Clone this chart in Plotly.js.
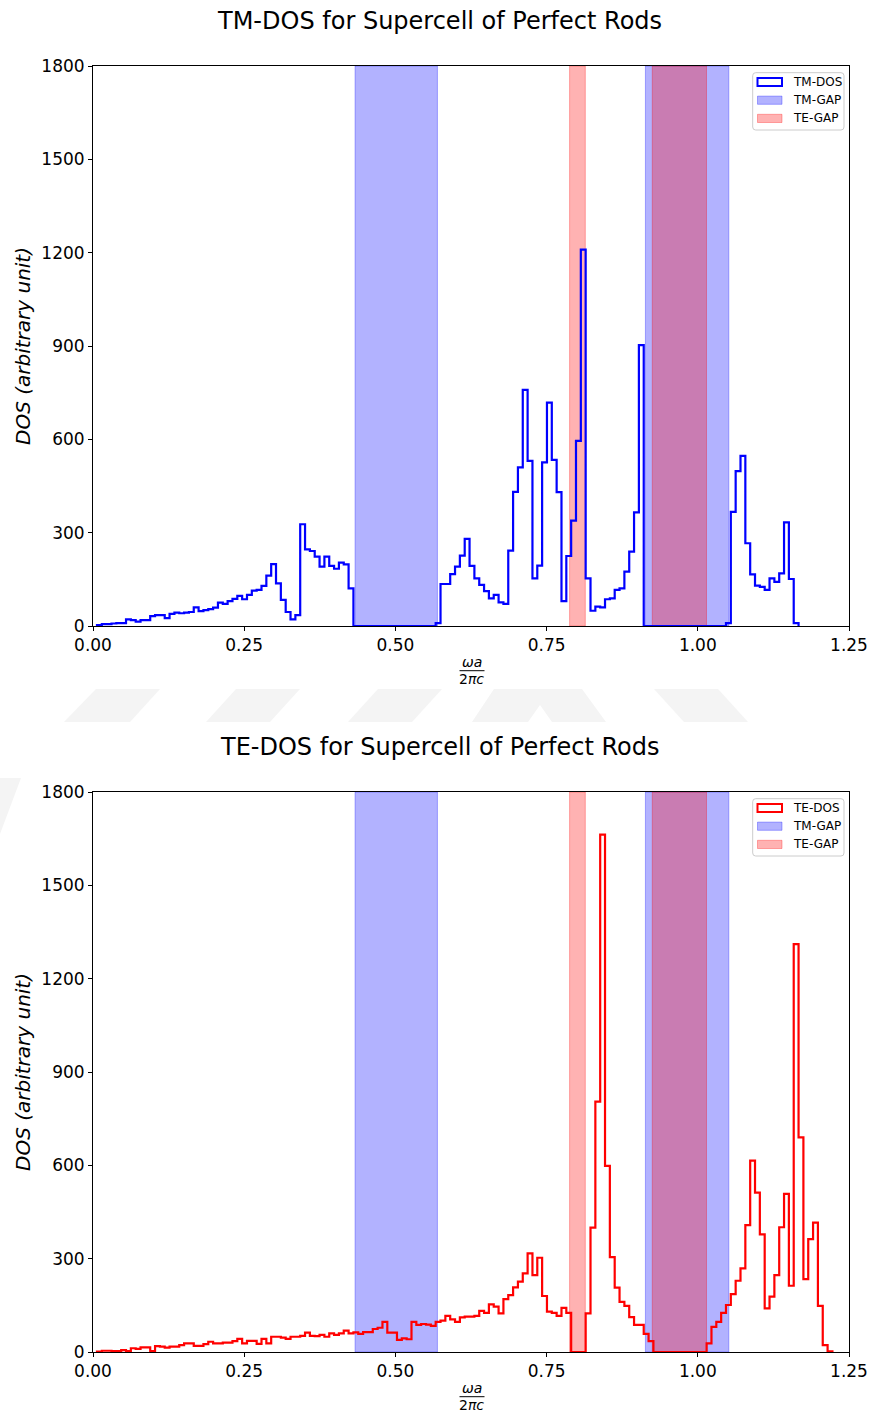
<!DOCTYPE html>
<html>
<head>
<meta charset="utf-8">
<script src="https://cdn.plot.ly/plotly-3.0.1.min.js"></script>
<style>
  html, body { margin: 0; padding: 0; background: #ffffff; }
  #chart { width: 874px; height: 1414px; }
</style>
</head>
<body>
<div id="chart"></div>
<script>
// Histogram bins shared by both spectra (normalised frequency omega*a / 2*pi*c)
const binStart = 0.0066;
const binWidth = 0.008;

// TM density of states per bin
const tmDos = [
  3, 6, 6, 8, 9, 9, 21, 19, 14, 19, 19, 32, 35, 35, 25, 39, 43, 41, 43, 45,
  60, 48, 51, 54, 59, 75, 71, 80, 87, 97, 86, 100, 114, 116, 129, 162, 199, 137, 84, 45,
  21, 35, 327, 246, 241, 223, 191, 223, 193, 184, 204, 198, 121,
  0, 0, 0, 0, 0, 0, 0, 0, 0, 0, 0, 0, 0, 0, 0, 0, 0,
  9,
  135, 135, 167, 191, 226, 280, 193, 153, 132, 112, 89, 100, 76, 71, 242, 431, 510, 759, 531, 153,
  194, 526, 718, 534, 430, 80, 225, 339, 595, 1210, 153, 49, 62, 60, 86, 89, 116, 121, 175, 239,
  365, 903,
  0, 0, 0, 0, 0, 0, 0, 0, 0, 0, 0, 0, 0, 0, 0, 0, 0,
  9,
  367, 498, 547, 266, 166, 130, 126, 116, 153, 142, 169, 333, 151, 9
];

// TE density of states per bin
const teDos = [
  1, 4, 4, 3, 3, 6, 3, 12, 10, 15, 15, 3, 19, 17, 14, 17, 17, 22, 28, 28,
  20, 20, 25, 33, 28, 28, 30, 30, 35, 42, 28, 36, 36, 26, 42, 28, 49, 49, 46, 42,
  49, 49, 52, 62, 52, 51, 55, 49, 60, 55, 60, 69, 60, 63,
  58, 64, 64, 74, 78, 97, 62, 62, 39, 44, 41, 97, 87, 90, 88, 84, 97, 101, 116, 105,
  97, 111, 114, 114, 116, 132, 126, 153, 146, 124, 170, 183, 208, 226, 253, 317, 247, 303, 180, 130,
  126, 116, 142, 126,
  0, 0, 0,
  124, 400, 805, 1663, 598, 305, 207, 161, 148, 112, 87, 87, 58, 35,
  0, 0, 0, 0, 0, 0, 0, 0, 0, 0, 0,
  28, 81, 97, 126, 151, 186, 229, 269, 408, 615, 512, 378, 140, 178, 247, 401, 508, 213, 1311, 690,
  234, 363, 416, 148, 22, 2
];

// Photonic band gaps [start, end]
const tmGaps = [[0.4333, 0.5695], [0.9134, 1.0513]];
const teGaps = [[0.7880, 0.8140], [0.9247, 1.0144]];

const panelTitles = ['TM-DOS for Supercell of Perfect Rods', 'TE-DOS for Supercell of Perfect Rods'];
const legendLabels = [['TM-DOS', 'TM-GAP', 'TE-GAP'], ['TE-DOS', 'TM-GAP', 'TE-GAP']];
const yTicks = [0, 300, 600, 900, 1200, 1500, 1800];
const xTicks = [0, 0.25, 0.5, 0.75, 1.0, 1.25];
const yLabel = 'DOS (arbitrary unit)';

// ---- page geometry (pixels) ----
const W = 874, H = 1414;
const M = { l: 93, r: 25, t: 66, b: 62 };
const plotW = W - M.l - M.r, plotH = H - M.t - M.b;
const px = x => (x - M.l) / plotW;           // pixel x -> paper
const py = y => (H - M.b - y) / plotH;       // pixel y -> paper
const panelTop = [66, 792];                   // top pixel of each axes box
const panelH = 560;

const FONT = 'DejaVu Sans, Liberation Sans, sans-serif';
const BLUE = '#0000ff', RED = '#ff0000';
const BLUE_A = 'rgba(0,0,255,0.3)', RED_A = 'rgba(255,0,0,0.3)';

// matplotlib-style step outline of a histogram
function stepTrace(values, color, xa, ya) {
  const xs = [binStart], ys = [0];
  for (let i = 0; i < values.length; i++) {
    xs.push(binStart + i * binWidth);
    ys.push(values[i]);
  }
  const end = binStart + values.length * binWidth;
  xs.push(end); ys.push(values[values.length - 1]);
  xs.push(end); ys.push(0);
  return {
    type: 'scatter', mode: 'lines', x: xs, y: ys,
    line: { shape: 'hv', color: color, width: 2.2 },
    xaxis: xa, yaxis: ya, showlegend: false, hoverinfo: 'skip'
  };
}

const data = [
  stepTrace(tmDos, BLUE, 'x', 'y'),
  stepTrace(teDos, RED, 'x2', 'y2')
];

function axisCommon() {
  return {
    showgrid: false, zeroline: false, showline: true, mirror: true,
    linecolor: '#000', linewidth: 1,
    ticks: 'outside', ticklen: 4, tickwidth: 1, tickcolor: '#000',
    tickfont: { family: FONT, size: 17, color: '#000' }
  };
}

const shapes = [];
const annotations = [];

function polyPath(pts) {
  return pts.map((p, i) => (i ? 'L' : 'M') + px(p[0]).toFixed(6) + ',' + py(p[1]).toFixed(6)).join(' ') + ' Z';
}

function roundRectPath(x0, y0, x1, y1, r) {
  // pixel coords -> paper path with rounded corners
  const X = v => px(v).toFixed(6), Y = v => py(v).toFixed(6);
  return 'M' + X(x0 + r) + ',' + Y(y0) +
    ' L' + X(x1 - r) + ',' + Y(y0) + ' Q' + X(x1) + ',' + Y(y0) + ' ' + X(x1) + ',' + Y(y0 + r) +
    ' L' + X(x1) + ',' + Y(y1 - r) + ' Q' + X(x1) + ',' + Y(y1) + ' ' + X(x1 - r) + ',' + Y(y1) +
    ' L' + X(x0 + r) + ',' + Y(y1) + ' Q' + X(x0) + ',' + Y(y1) + ' ' + X(x0) + ',' + Y(y1 - r) +
    ' L' + X(x0) + ',' + Y(y0 + r) + ' Q' + X(x0) + ',' + Y(y0) + ' ' + X(x0 + r) + ',' + Y(y0) + ' Z';
}

// faint background emblem showing through the page margins
const emblem = [
  [[64, 722], [96, 689], [160, 689], [130, 722]],
  [[206, 722], [236, 689], [300, 689], [270, 722]],
  [[348, 722], [378, 689], [442, 689], [412, 722]],
  [[472, 722], [494, 689], [582, 689], [606, 722], [552, 722], [540, 705], [528, 722]],
  [[654, 689], [718, 689], [748, 722], [684, 722]],
  [[0, 778], [21, 778], [0, 834]]
];
emblem.forEach(pts => shapes.push({
  type: 'path', xref: 'paper', yref: 'paper', path: polyPath(pts),
  fillcolor: '#f4f4f4', line: { width: 0 }, layer: 'below'
}));

[0, 1].forEach(p => {
  const xa = p === 0 ? 'x' : 'x2';
  const yd = p === 0 ? 'y domain' : 'y2 domain';
  const top = panelTop[p];
  const lineColor = p === 0 ? BLUE : RED;

  // band gaps: TM first, TE on top
  tmGaps.forEach(g => shapes.push({
    type: 'rect', xref: xa, yref: yd, x0: g[0], x1: g[1], y0: 0, y1: 1,
    fillcolor: BLUE_A, line: { color: BLUE_A, width: 1 }, layer: 'below'
  }));
  teGaps.forEach(g => shapes.push({
    type: 'rect', xref: xa, yref: yd, x0: g[0], x1: g[1], y0: 0, y1: 1,
    fillcolor: RED_A, line: { color: RED_A, width: 1 }, layer: 'below'
  }));

  // panel title
  annotations.push({
    xref: 'paper', yref: 'paper', x: px(439.5), y: py(top - 45),
    text: panelTitles[p], showarrow: false, xanchor: 'center', yanchor: 'middle',
    font: { family: FONT, size: 24, color: '#000' }
  });

  // y label
  annotations.push({
    xref: 'paper', yref: 'paper', x: px(23), y: py(top + panelH / 2),
    text: '<i>' + yLabel + '</i>', textangle: -90, showarrow: false,
    xanchor: 'center', yanchor: 'middle',
    font: { family: FONT, size: 20, color: '#000' }
  });

  // x label as a stacked fraction
  const by = top + panelH;
  annotations.push({
    xref: 'paper', yref: 'paper', x: px(472), y: py(by + 36),
    text: '<i>ωa</i>', showarrow: false, xanchor: 'center', yanchor: 'middle',
    font: { family: FONT, size: 14, color: '#000' }
  });
  annotations.push({
    xref: 'paper', yref: 'paper', x: px(472), y: py(by + 53),
    text: '2<i>πc</i>', showarrow: false, xanchor: 'center', yanchor: 'middle',
    font: { family: FONT, size: 14, color: '#000' }
  });
  shapes.push({
    type: 'line', xref: 'paper', yref: 'paper',
    x0: px(459.5), x1: px(484.5), y0: py(by + 44.7), y1: py(by + 44.7),
    line: { color: '#000', width: 1 }
  });

  // legend box
  const lt = top + 6.7;
  shapes.push({
    type: 'path', xref: 'paper', yref: 'paper',
    path: roundRectPath(752.7, lt, 844, lt + 57.3, 3),
    fillcolor: 'rgba(255,255,255,0.8)', line: { color: '#cccccc', width: 1 }, layer: 'above'
  });
  const rows = [lt + 9.3, lt + 27.5, lt + 45.7];
  const sym = [
    { fill: 'rgba(255,255,255,0)', line: lineColor, w: 2 },
    { fill: BLUE_A, line: BLUE_A, w: 1 },
    { fill: RED_A, line: RED_A, w: 1 }
  ];
  rows.forEach((cy, i) => {
    shapes.push({
      type: 'rect', xref: 'paper', yref: 'paper',
      x0: px(757.5), x1: px(782), y0: py(cy - 4.1), y1: py(cy + 4.1),
      fillcolor: sym[i].fill, line: { color: sym[i].line, width: sym[i].w }, layer: 'above'
    });
    annotations.push({
      xref: 'paper', yref: 'paper', x: px(791), y: py(cy),
      text: legendLabels[p][i], showarrow: false, xanchor: 'left', yanchor: 'middle',
      font: { family: FONT, size: 12, color: '#000' }
    });
  });
});

const layout = {
  width: W, height: H,
  margin: M,
  paper_bgcolor: '#ffffff', plot_bgcolor: '#ffffff',
  showlegend: false,
  xaxis: Object.assign(axisCommon(), {
    domain: [0, 1], anchor: 'y', range: [0, 1.25],
    tickvals: xTicks, tickformat: '.2f'
  }),
  yaxis: Object.assign(axisCommon(), {
    domain: [py(626), 1], anchor: 'x', range: [0, 1800], tickvals: yTicks
  }),
  xaxis2: Object.assign(axisCommon(), {
    domain: [0, 1], anchor: 'y2', range: [0, 1.25],
    tickvals: xTicks, tickformat: '.2f'
  }),
  yaxis2: Object.assign(axisCommon(), {
    domain: [0, py(792)], anchor: 'x2', range: [0, 1800], tickvals: yTicks
  }),
  shapes: shapes,
  annotations: annotations
};

Plotly.newPlot('chart', data, layout, { staticPlot: true, displayModeBar: false });
</script>
</body>
</html>
